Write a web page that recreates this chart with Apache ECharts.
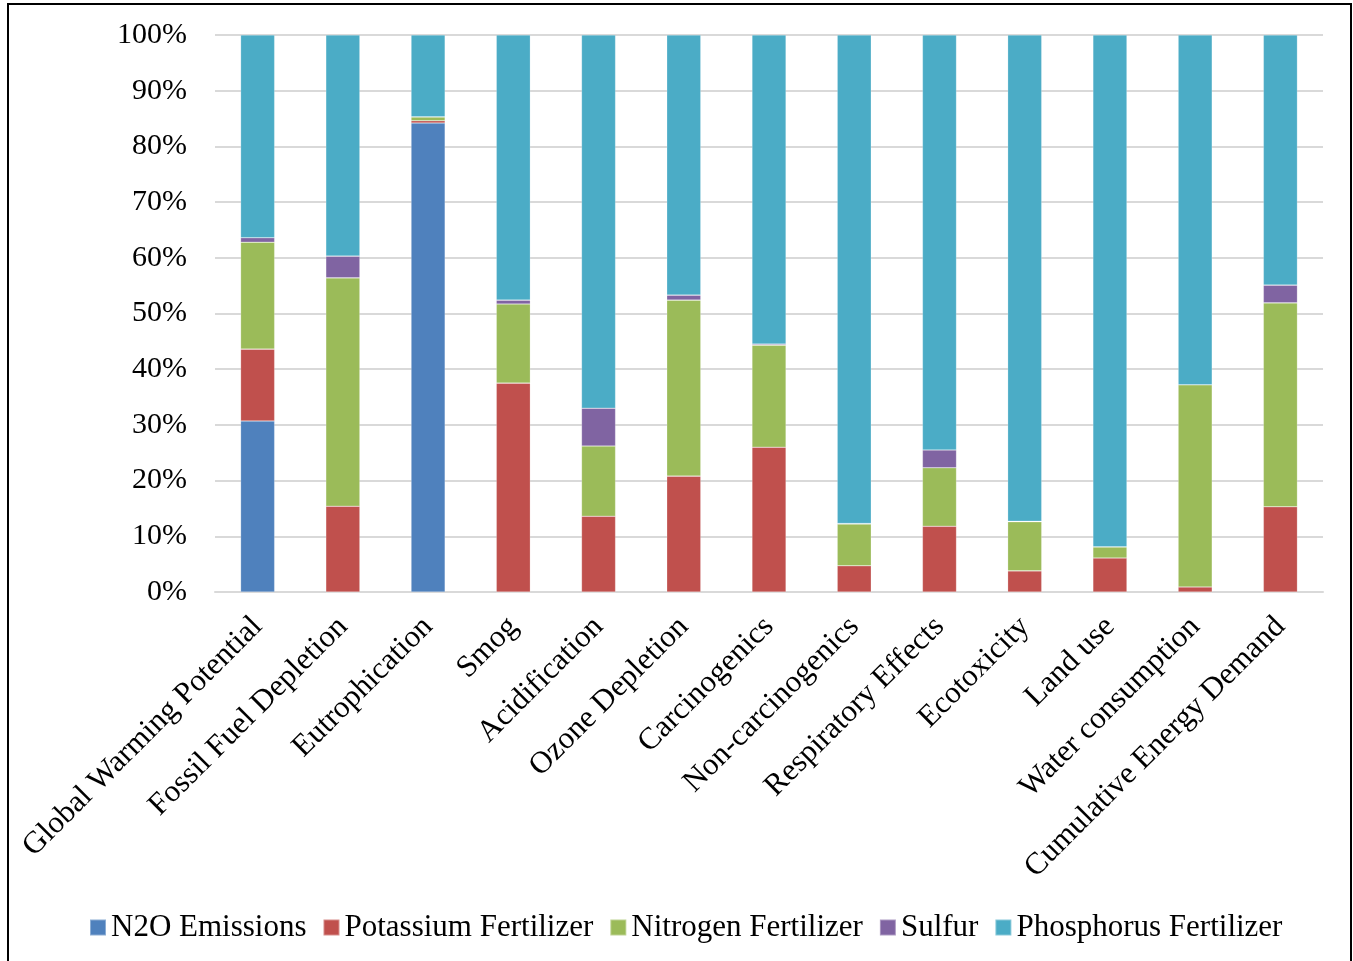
<!DOCTYPE html>
<html>
<head>
<meta charset="utf-8">
<script src="https://cdn.jsdelivr.net/npm/echarts@6/dist/echarts.min.js"></script>
<style>
	html, body { margin: 0; padding: 0; background: #fff; }
	#container { width: 1353px; height: 961px; }
</style>
</head>
<body>
<div id="container"></div>
<script>
var categories = ['Global Warming Potential', 'Fossil Fuel Depletion', 'Eutrophication', 'Smog',
	'Acidification', 'Ozone Depletion', 'Carcinogenics', 'Non-carcinogenics', 'Respiratory Effects',
	'Ecotoxicity', 'Land use', 'Water consumption', 'Cumulative Energy Demand'];

// shares in percent
var n2o = [30.7, 0, 84.2, 0, 0, 0, 0, 0, 0, 0, 0, 0, 0];
var potassium = [12.9, 15.4, 0.4, 37.5, 13.6, 20.8, 26.0, 4.7, 11.8, 3.8, 6.1, 0.9, 15.3];
var nitrogen = [19.2, 41.0, 0.7, 14.2, 12.6, 31.6, 18.3, 7.5, 10.5, 8.8, 2.0, 36.3, 36.6];
var sulfur = [0.8, 3.9, 0, 0.7, 6.8, 0.9, 0.2, 0.1, 3.2, 0.1, 0, 0, 3.2];
var phosphorus = [36.4, 39.7, 14.7, 47.6, 67.0, 46.7, 55.5, 87.7, 74.5, 87.3, 91.9, 62.8, 44.9];

var seriesNames = ['N2O Emissions', 'Potassium Fertilizer', 'Nitrogen Fertilizer', 'Sulfur', 'Phosphorus Fertilizer'];
var colors = ['#4F81BD', '#C0504D', '#9BBB59', '#8064A2', '#4BACC6'];

loadChart();

function loadChart() {
	var dom = document.getElementById('container');
	var myChart = echarts.init(dom);
	var font = 'Liberation Serif';
	var allData = [n2o, potassium, nitrogen, sulfur, phosphorus];

	var series = seriesNames.map(function (name, i) {
		return {
			name: name,
			type: 'bar',
			stack: 'total',
			barWidth: '40%',
			itemStyle: {
				color: colors[i],
				borderColor: 'rgba(255,255,255,0.35)',
				borderWidth: 0.6
			},
			data: allData[i]
		};
	});

	var option = {
		backgroundColor: '#fff',
		animation: false,
		color: colors,
		graphic: [{
			type: 'rect',
			shape: { x: 8, y: 4, width: 1343, height: 970 },
			style: { fill: 'none', stroke: '#000', lineWidth: 2 },
			silent: true
		}],
		grid: {
			left: 215,
			right: 30,
			top: 35,
			bottom: 369
		},
		legend: {
			bottom: 13,
			left: 84,
			itemWidth: 16,
			itemHeight: 16,
			itemGap: 16,
			icon: 'rect',
			data: seriesNames,
			textStyle: {
				fontFamily: font,
				fontSize: 31,
				color: '#000',
				padding: [0, 0, 0, 0]
			}
		},
		xAxis: {
			type: 'category',
			data: categories,
			axisLine: { lineStyle: { color: '#d9d9d9', width: 2 } },
			axisTick: { show: false },
			axisLabel: {
				interval: 0,
				rotate: 45,
				margin: 30,
				color: '#000',
				fontFamily: font,
				fontSize: 31
			}
		},
		yAxis: {
			type: 'value',
			min: 0,
			max: 100,
			interval: 10,
			axisLine: { show: false },
			axisTick: { show: false },
			splitLine: { lineStyle: { color: '#d9d9d9', width: 2 } },
			axisLabel: {
				formatter: '{value}%',
				margin: 28,
				color: '#000',
				fontFamily: font,
				fontSize: 30
			}
		},
		series: series
	};

	myChart.setOption(option, true);
}
</script>
</body>
</html>
